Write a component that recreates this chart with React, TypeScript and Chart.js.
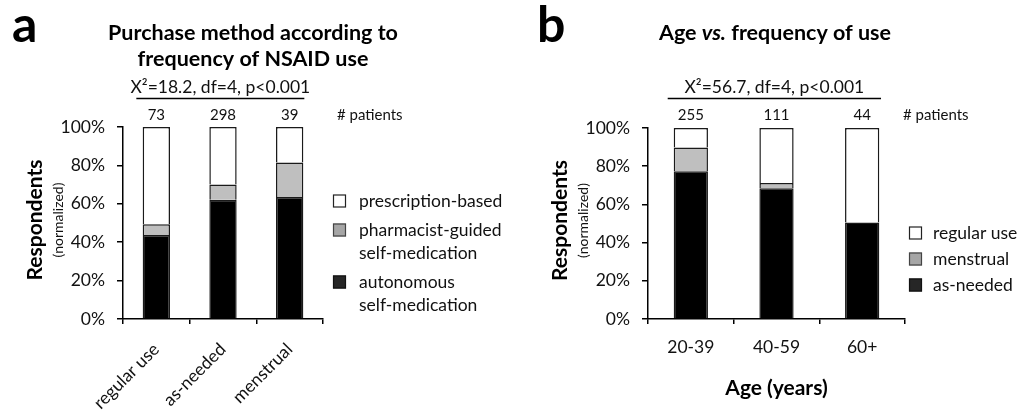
import React, { useEffect, useRef } from "react";
import { Chart, registerables } from "chart.js";

Chart.register(...registerables);

const FONT = "Lato, 'Open Sans', 'DejaVu Sans', sans-serif";

// ---------- Panel a data ----------
const purchaseCategories = ["regular use", "as-needed", "menstrual"];
const purchasePatients = [73, 298, 39];
const autonomousSelfMedication = [43.8, 62.1, 63.5];
const pharmacistGuided = [5.5, 8.0, 18.0];
const prescriptionBased = [50.7, 29.9, 18.5];
const purchaseStat = "X\u00B2=18.2, df=4, p<0.001";

// ---------- Panel b data ----------
const ageCategories = ["20-39", "40-59", "60+"];
const agePatients = [255, 111, 44];
const asNeeded = [77.3, 68.5, 50.5];
const menstrualUse = [12.5, 2.7, 0];
const regularUse = [10.2, 28.8, 49.5];
const ageStat = "X\u00B2=56.7, df=4, p<0.001";

const yTickStep = 20;

const WHITE = "#ffffff";
const GREY = "#bfbfbf";
const BLACK = "#000000";

type Seg = { text: string; italic?: boolean };

type PanelSpec = {
  letter: string;
  letterX: number;
  titleLines: Seg[][];
  titleCx: number;
  titleBaselines: number[];
  stat: string;
  categories: string[];
  patients: number[];
  series: { label: string; lines: string[]; data: number[]; color: string; swatch: string; swatchBorder: string }[];
  canvasWidth: number;
  area: { left: number; right: number; top: number; bottom: number };
  rotate: boolean;
  xTitle?: string;
  patientsX: number;
  legend: { boxX: number; textX: number; firstY: number; lineH: number; gap: number };
  lineFrac: [number, number];
  barFrac: number;
};

function drawSegs(ctx: CanvasRenderingContext2D, segs: Seg[], cx: number, y: number, size: number) {
  const fonts = segs.map((s) => `${s.italic ? "italic " : ""}bold ${size}px ${FONT}`);
  let total = 0;
  const widths = segs.map((s, i) => {
    ctx.font = fonts[i];
    const w = ctx.measureText(s.text).width;
    total += w;
    return w;
  });
  let x = cx - total / 2;
  ctx.textAlign = "left";
  segs.forEach((s, i) => {
    ctx.font = fonts[i];
    ctx.fillText(s.text, x, y);
    x += widths[i];
  });
}

function makePlugin(p: PanelSpec) {
  return {
    id: "annot",
    afterDraw(chart: any) {
      const ctx: CanvasRenderingContext2D = chart.ctx;
      const area = chart.chartArea;
      const xs = chart.scales.x;
      ctx.save();
      ctx.fillStyle = "#000";
      ctx.textBaseline = "alphabetic";

      // panel letter
      ctx.font = `bold 50px ${FONT}`;
      ctx.textAlign = "left";
      ctx.fillText(p.letter, p.letterX, 42);

      // title
      p.titleLines.forEach((segs, i) => drawSegs(ctx, segs, p.titleCx, p.titleBaselines[i], 21.5));

      // statistics line
      const cat = xs.getPixelForValue(1) - xs.getPixelForValue(0);
      const lx0 = xs.getPixelForValue(0) - p.lineFrac[0] * cat;
      const lx1 = xs.getPixelForValue(p.categories.length - 1) + p.lineFrac[1] * cat;
      ctx.font = `17.5px ${FONT}`;
      ctx.textAlign = "center";
      ctx.fillStyle = "#111";
      ctx.fillText(p.stat, (lx0 + lx1) / 2, 93);
      ctx.strokeStyle = "#000";
      ctx.lineWidth = 1.6;
      ctx.beginPath();
      ctx.moveTo(lx0, 98.5);
      ctx.lineTo(lx1, 98.5);
      ctx.stroke();

      // patient counts
      ctx.font = `15px ${FONT}`;
      ctx.textAlign = "center";
      p.patients.forEach((n, i) => {
        ctx.fillText(String(n), xs.getPixelForValue(i), 120);
      });
      ctx.textAlign = "left";
      ctx.fillText("# patients", p.patientsX, 120);

      // y axis title
      const cy = (area.top + area.bottom) / 2 - 3;
      ctx.save();
      ctx.translate(area.left - 88, cy);
      ctx.rotate(-Math.PI / 2);
      ctx.textAlign = "center";
      ctx.textBaseline = "middle";
      ctx.fillStyle = "#000";
      ctx.font = `bold 21px ${FONT}`;
      ctx.fillText("Respondents", 0, 0);
      ctx.restore();
      ctx.save();
      ctx.translate(area.left - 65, cy);
      ctx.rotate(-Math.PI / 2);
      ctx.textAlign = "center";
      ctx.textBaseline = "middle";
      ctx.fillStyle = "#111";
      ctx.font = `14px ${FONT}`;
      ctx.fillText("(normalized)", 0, 0);
      ctx.restore();

      // x axis title
      if (p.xTitle) {
        ctx.font = `bold 21px ${FONT}`;
        ctx.textAlign = "center";
        ctx.fillStyle = "#000";
        ctx.fillText(p.xTitle, (area.left + area.right) / 2, 395);
      }

      // legend (reverse order: top of stack first)
      const L = p.legend;
      let y = L.firstY;
      ctx.font = `17.5px ${FONT}`;
      ctx.textBaseline = "middle";
      ctx.textAlign = "left";
      [...p.series].reverse().forEach((s) => {
        ctx.fillStyle = s.swatch;
        ctx.fillRect(L.boxX, y - 6.5, 13, 13);
        ctx.strokeStyle = s.swatchBorder;
        ctx.lineWidth = 1.2;
        ctx.strokeRect(L.boxX + 0.5, y - 6, 12, 12);
        ctx.fillStyle = "#111";
        s.lines.forEach((ln, j) => ctx.fillText(ln, L.textX, y + j * L.lineH));
        y += s.lines.length * L.lineH + L.gap;
      });

      ctx.restore();
    },
  };
}

function buildConfig(p: PanelSpec): any {
  return {
    type: "bar",
    data: {
      labels: p.categories,
      datasets: p.series.map((s) => ({
        label: s.label,
        data: s.data,
        backgroundColor: s.color,
        borderColor: "#1a1a1a",
        borderWidth: 1.5,
        barPercentage: p.barFrac,
        categoryPercentage: 1,
      })),
    },
    options: {
      animation: false,
      responsive: false,
      layout: {
        padding: {
          left: 0,
          top: p.area.top,
          right: p.canvasWidth - p.area.right,
          bottom: 0,
        },
      },
      plugins: {
        legend: { display: false },
        tooltip: { enabled: false },
        title: { display: false },
      },
      scales: {
        x: {
          stacked: true,
          offset: true,
          afterFit: (s: any) => {
            s.height = 412 - p.area.bottom;
          },
          grid: {
            offset: true,
            drawOnChartArea: false,
            drawTicks: true,
            tickLength: 5,
            color: "#000",
            lineWidth: 1.5,
          },
          border: { display: true, color: "#000", width: 1.5 },
          ticks: {
            color: "#111",
            font: { family: FONT, size: 17.5 },
            padding: p.rotate ? 15 : 13,
            minRotation: p.rotate ? 45 : 0,
            maxRotation: p.rotate ? 45 : 0,
            autoSkip: false,
          },
        },
        y: {
          stacked: true,
          min: 0,
          max: 100,
          afterFit: (s: any) => {
            s.width = p.area.left;
          },
          grid: {
            drawOnChartArea: false,
            drawTicks: true,
            tickLength: 6,
            color: "#000",
            lineWidth: 1.5,
          },
          border: { display: true, color: "#000", width: 1.5 },
          ticks: {
            stepSize: yTickStep,
            color: "#111",
            font: { family: FONT, size: 17.5 },
            padding: 12,
            callback: (v: any) => `${v}%`,
          },
        },
      },
    },
    plugins: [makePlugin(p)],
  };
}

const panelA: PanelSpec = {
  letter: "a",
  letterX: 12,
  titleLines: [[{ text: "Purchase method according to" }], [{ text: "frequency of NSAID use" }]],
  titleCx: 253,
  titleBaselines: [40, 66],
  stat: purchaseStat,
  categories: purchaseCategories,
  patients: purchasePatients,
  series: [
    { label: "autonomous self-medication", lines: ["autonomous", "self-medication"], data: autonomousSelfMedication, color: BLACK, swatch: "#262626", swatchBorder: "#111" },
    { label: "pharmacist-guided self-medication", lines: ["pharmacist-guided", "self-medication"], data: pharmacistGuided, color: GREY, swatch: "#a6a6a6", swatchBorder: "#444" },
    { label: "prescription-based", lines: ["prescription-based"], data: prescriptionBased, color: WHITE, swatch: "#ffffff", swatchBorder: "#222" },
  ],
  canvasWidth: 520,
  area: { left: 123, right: 323, top: 127, bottom: 319 },
  rotate: true,
  patientsX: 337,
  legend: { boxX: 333, textX: 359, firstY: 201, lineH: 23, gap: 6 },
  lineFrac: [0.3, 0.22],
  barFrac: 0.41,
};

const panelB: PanelSpec = {
  letter: "b",
  letterX: 17,
  titleLines: [[{ text: "Age " }, { text: "vs.", italic: true }, { text: " frequency of use" }]],
  titleCx: 255,
  titleBaselines: [40],
  stat: ageStat,
  categories: ageCategories,
  patients: agePatients,
  series: [
    { label: "as-needed", lines: ["as-needed"], data: asNeeded, color: BLACK, swatch: "#262626", swatchBorder: "#111" },
    { label: "menstrual", lines: ["menstrual"], data: menstrualUse, color: GREY, swatch: "#a6a6a6", swatchBorder: "#444" },
    { label: "regular use", lines: ["regular use"], data: regularUse, color: WHITE, swatch: "#ffffff", swatchBorder: "#222" },
  ],
  canvasWidth: 513,
  area: { left: 128, right: 385, top: 128, bottom: 319 },
  rotate: false,
  xTitle: "Age (years)",
  patientsX: 383,
  legend: { boxX: 389, textX: 413, firstY: 233, lineH: 26, gap: 0 },
  lineFrac: [0.27, 0.22],
  barFrac: 0.4,
};

function Panel({ spec, left }: { spec: PanelSpec; left: number }) {
  const ref = useRef<HTMLCanvasElement>(null);
  useEffect(() => {
    if (!ref.current) return;
    const chart = new Chart(ref.current, buildConfig(spec));
    return () => chart.destroy();
  }, [spec]);
  return (
    <div style={{ position: "absolute", left, top: 0, width: spec.canvasWidth, height: 412 }}>
      <canvas
        ref={ref}
        width={spec.canvasWidth}
        height={412}
        style={{ width: spec.canvasWidth, height: 412, display: "block" }}
      />
    </div>
  );
}

export default function App() {
  return (
    <div style={{ position: "absolute", left: 0, top: 0, width: 1033, height: 412, background: "#fff", overflow: "hidden" }}>
      <Panel spec={panelA} left={0} />
      <Panel spec={panelB} left={520} />
    </div>
  );
}
